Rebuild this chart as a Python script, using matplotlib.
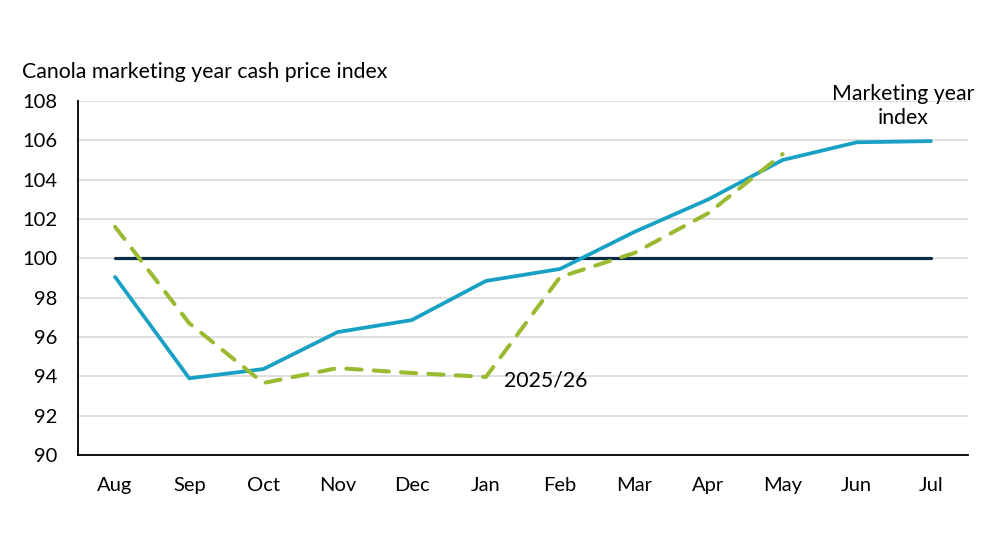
import matplotlib
matplotlib.use("Agg")
import matplotlib.pyplot as plt

plt.rcParams["font.family"] = ["Lato", "DejaVu Sans"]

meses = ["Aug", "Sep", "Oct", "Nov", "Dec", "Jan", "Feb", "Mar", "Apr", "May", "Jun", "Jul"]
indice = [99.05, 93.9, 94.37, 96.25, 96.86, 98.85, 99.46, 101.34, 103.0, 105.0, 105.9, 105.96]
campania = [101.6, 96.7, 93.66, 94.42, 94.17, 93.97, 99.05, 100.27, 102.3, 105.3]
base = [100] * 12

fig = plt.figure(figsize=(9.92, 5.58), dpi=100)
ax = fig.add_axes([78 / 992, 1 - 455 / 558, 890 / 992, 354 / 558])

x = list(range(len(meses)))
ax.plot(x, base, color="#0d2b45", lw=2.3, solid_capstyle="round", zorder=3)
ax.plot(x, indice, color="#18a1c4", lw=2.7, solid_capstyle="round", zorder=4)
ax.plot(x[:len(campania)], campania, color="#9aba32", lw=2.9, ls=(0, (3.8, 3.0)),
        dash_capstyle="round", zorder=5)

ax.set_xlim(-0.5, 11.5)
ax.set_ylim(90, 108)
ax.set_yticks(range(90, 109, 2))
ax.set_xticks(x)
ax.set_xticklabels(meses)
ax.grid(axis="y", color="#d9d9d9", lw=1.2)
ax.set_axisbelow(True)
for s in ["top", "right"]:
    ax.spines[s].set_visible(False)
for s in ["left", "bottom"]:
    ax.spines[s].set_color("black")
    ax.spines[s].set_linewidth(1.3)
ax.tick_params(length=0, labelsize=14.5, colors="black")
ax.tick_params(axis="y", pad=15)
ax.tick_params(axis="x", pad=16)

fig.text(22 / 992, 1 - 72 / 558, "Canola marketing year cash price index",
         fontsize=15.3, va="center", ha="left")
ax.text(10.63, 107.75, "Marketing year\nindex", fontsize=15.3, ha="center",
        va="center", linespacing=1.2)
ax.text(5.24, 93.8, "2025/26", fontsize=15.3, ha="left", va="center")

fig.savefig("out.png", dpi=100)
